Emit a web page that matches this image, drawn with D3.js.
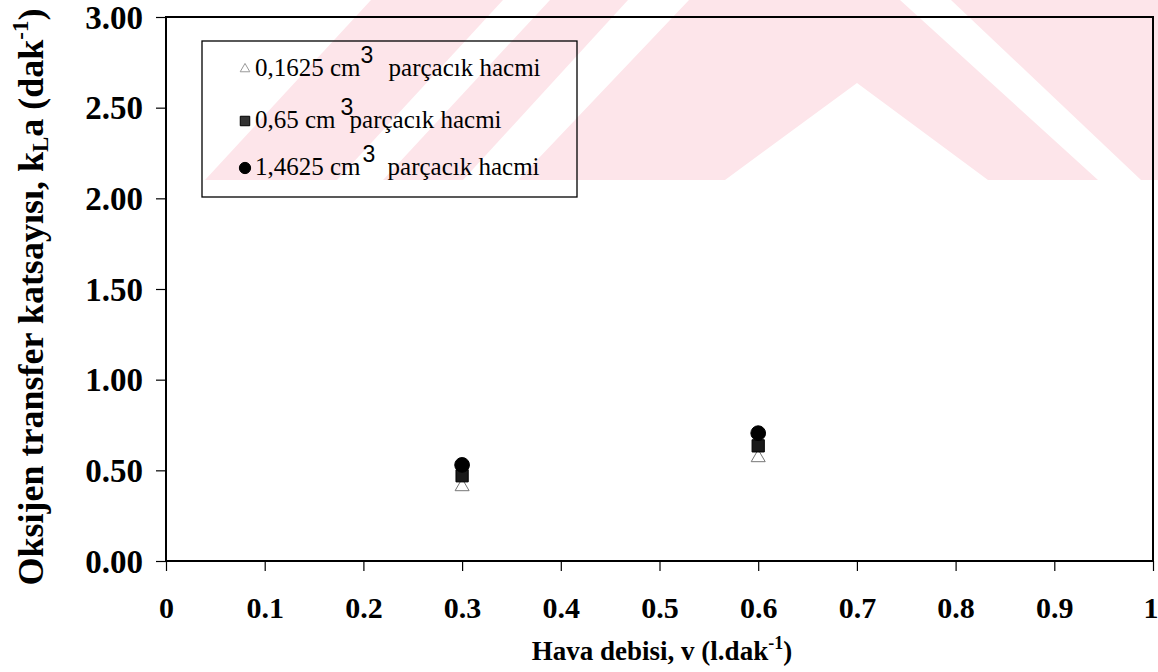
<!DOCTYPE html>
<html><head><meta charset="utf-8">
<script src="https://cdn.jsdelivr.net/npm/d3@7"></script>
<style>body{margin:0;background:#fff}svg{display:block}</style></head>
<body><svg id="c" width="1158" height="672"></svg>
<script>
// ---- data ----
const xTicks = [0, 0.1, 0.2, 0.3, 0.4, 0.5, 0.6, 0.7, 0.8, 0.9, 1];
const yTicks = [0, 0.5, 1, 1.5, 2, 2.5, 3];
const airFlow = [0.3, 0.6];
const seriesLabels = ["0,1625 cm", "0,65 cm", "1,4625 cm"];
const kla_01625 = [0.41, 0.57];
const kla_065 = [0.47, 0.635];
const kla_14625 = [0.53, 0.705];

const svg = d3.select("#c");
const m = {l: 166, r: 1153, t: 17, b: 561};
const x = d3.scaleLinear().domain([0, 1]).range([m.l, m.r]);
const y = d3.scaleLinear().domain([0, 3]).range([m.b, m.t]);

// watermark (background decoration)
const pink = "#fde5ea";
const wm = svg.append("g");
wm.append("path").attr("fill", pink).attr("d", "M205,180 L337,180 L503,0 L371,0 Z");
wm.append("path").attr("fill", pink).attr("d", "M383,180 L463,180 L628,0 L550,0 Z");
wm.append("path").attr("fill", pink).attr("fill-rule", "evenodd")
  .attr("d", "M518,180 L689,0 L900,0 L1098,180 Z M857,83 L725,180 L988,180 Z");
wm.append("path").attr("fill", pink).attr("d", "M1141,180 L1158,180 L1158,0 L951,0 Z");

const serif = "'Liberation Serif','Times New Roman',serif";

// axes
const yAxis = d3.axisLeft(y).tickValues(yTicks).tickSize(10).tickFormat(d3.format(".2f"));
const gy = svg.append("g").attr("transform", `translate(${m.l},0)`).call(yAxis);
gy.select(".domain").remove();
gy.selectAll("line").attr("stroke", "#000").attr("stroke-width", 1.2);
gy.selectAll("text").attr("x", -23).attr("dy", "0.34em")
  .attr("font-family", serif).attr("font-weight", "bold").attr("font-size", 33).attr("fill", "#000");

const xAxis = d3.axisBottom(x).tickValues(xTicks).tickSize(10)
  .tickFormat(d => (d === 0 || d === 1) ? String(d) : d3.format(".1f")(d));
const gx = svg.append("g").attr("transform", `translate(0,${m.b})`).call(xAxis);
gx.select(".domain").remove();
gx.selectAll("line").attr("stroke", "#000").attr("stroke-width", 1.2);
gx.selectAll("text").attr("y", 57).attr("dy", 0)
  .attr("font-family", serif).attr("font-weight", "bold").attr("font-size", 30).attr("fill", "#000")
  .filter(d => d === 1).attr("text-anchor", "end").attr("x", 5);

// frame
svg.append("rect").attr("x", m.l).attr("y", m.t).attr("width", m.r - m.l).attr("height", m.b - m.t)
  .attr("fill", "none").attr("stroke", "#000").attr("stroke-width", 2);

// axis titles
const yt = svg.append("text")
  .attr("transform", `translate(43,297) rotate(-90)`)
  .attr("text-anchor", "middle").attr("font-family", serif).attr("font-weight", "bold")
  .attr("font-size", 36).attr("fill", "#000");
yt.append("tspan").text("Oksijen transfer katsayısı, k");
yt.append("tspan").text("L").attr("font-size", 23).attr("dy", 5);
yt.append("tspan").text("a (dak").attr("dy", -5);
yt.append("tspan").text("-1").attr("font-size", 23).attr("dy", -15);
yt.append("tspan").text(")").attr("dy", 15);

const xt = svg.append("text").attr("x", 662).attr("y", 660)
  .attr("text-anchor", "middle").attr("font-family", serif).attr("font-weight", "bold")
  .attr("font-size", 27).attr("fill", "#000");
xt.append("tspan").text("Hava debisi, v (l.dak");
xt.append("tspan").text("-1").attr("font-size", 18).attr("dy", -11);
xt.append("tspan").text(")").attr("dy", 11);

// markers
const sym = {
  tri: d3.symbol().type(d3.symbolTriangle).size(85),
  sq: d3.symbol().type(d3.symbolSquare).size(150),
  circ: d3.symbol().type(d3.symbolCircle).size(170)
};
const series = [
  {vals: kla_01625, s: sym.tri, fill: "#fff", stroke: "#777"},
  {vals: kla_065, s: sym.sq, fill: "#1a1a1a", stroke: "#000"},
  {vals: kla_14625, s: sym.circ, fill: "#000", stroke: "#000"}
];
series.forEach(se => {
  svg.append("g").selectAll("path").data(airFlow).join("path")
    .attr("d", se.s)
    .attr("transform", (d, i) => `translate(${x(d)},${y(se.vals[i])})`)
    .attr("fill", se.fill).attr("stroke", se.stroke).attr("stroke-width", 1);
});

// legend
const lg = svg.append("g");
lg.append("rect").attr("x", 202).attr("y", 41).attr("width", 375).attr("height", 156)
  .attr("fill", "none").attr("stroke", "#000").attr("stroke-width", 1.3);
const legSym = [
  d3.symbol().type(d3.symbolTriangle).size(40),
  d3.symbol().type(d3.symbolSquare).size(90),
  d3.symbol().type(d3.symbolCircle).size(100)
];
const legFill = ["#fff", "#333", "#000"];
const legStroke = ["#999", "#000", "#000"];
const rowY = [76, 128, 175];
const supGap = [10, 15, 12];
const restGap = [28, 14, 27];
seriesLabels.forEach((lab, i) => {
  lg.append("path").attr("d", legSym[i]).attr("transform", `translate(245,${rowY[i] - 7})`)
    .attr("fill", legFill[i]).attr("stroke", legStroke[i]);
  const t = lg.append("text").attr("x", 255).attr("y", rowY[i]).attr("font-family", serif)
    .attr("font-size", 25).attr("fill", "#000").text(lab);
  const w = t.node().getComputedTextLength();
  lg.append("text").attr("x", 255 + w + supGap[i] - 10).attr("y", rowY[i] - 13)
    .attr("font-family", "'Liberation Sans',Arial,sans-serif").attr("font-size", 23).attr("fill", "#000").text("3");
  lg.append("text").attr("x", 255 + w + restGap[i]).attr("y", rowY[i]).attr("font-family", serif)
    .attr("font-size", 25).attr("fill", "#000").text("parçacık hacmi");
});
</script>
</body></html>
